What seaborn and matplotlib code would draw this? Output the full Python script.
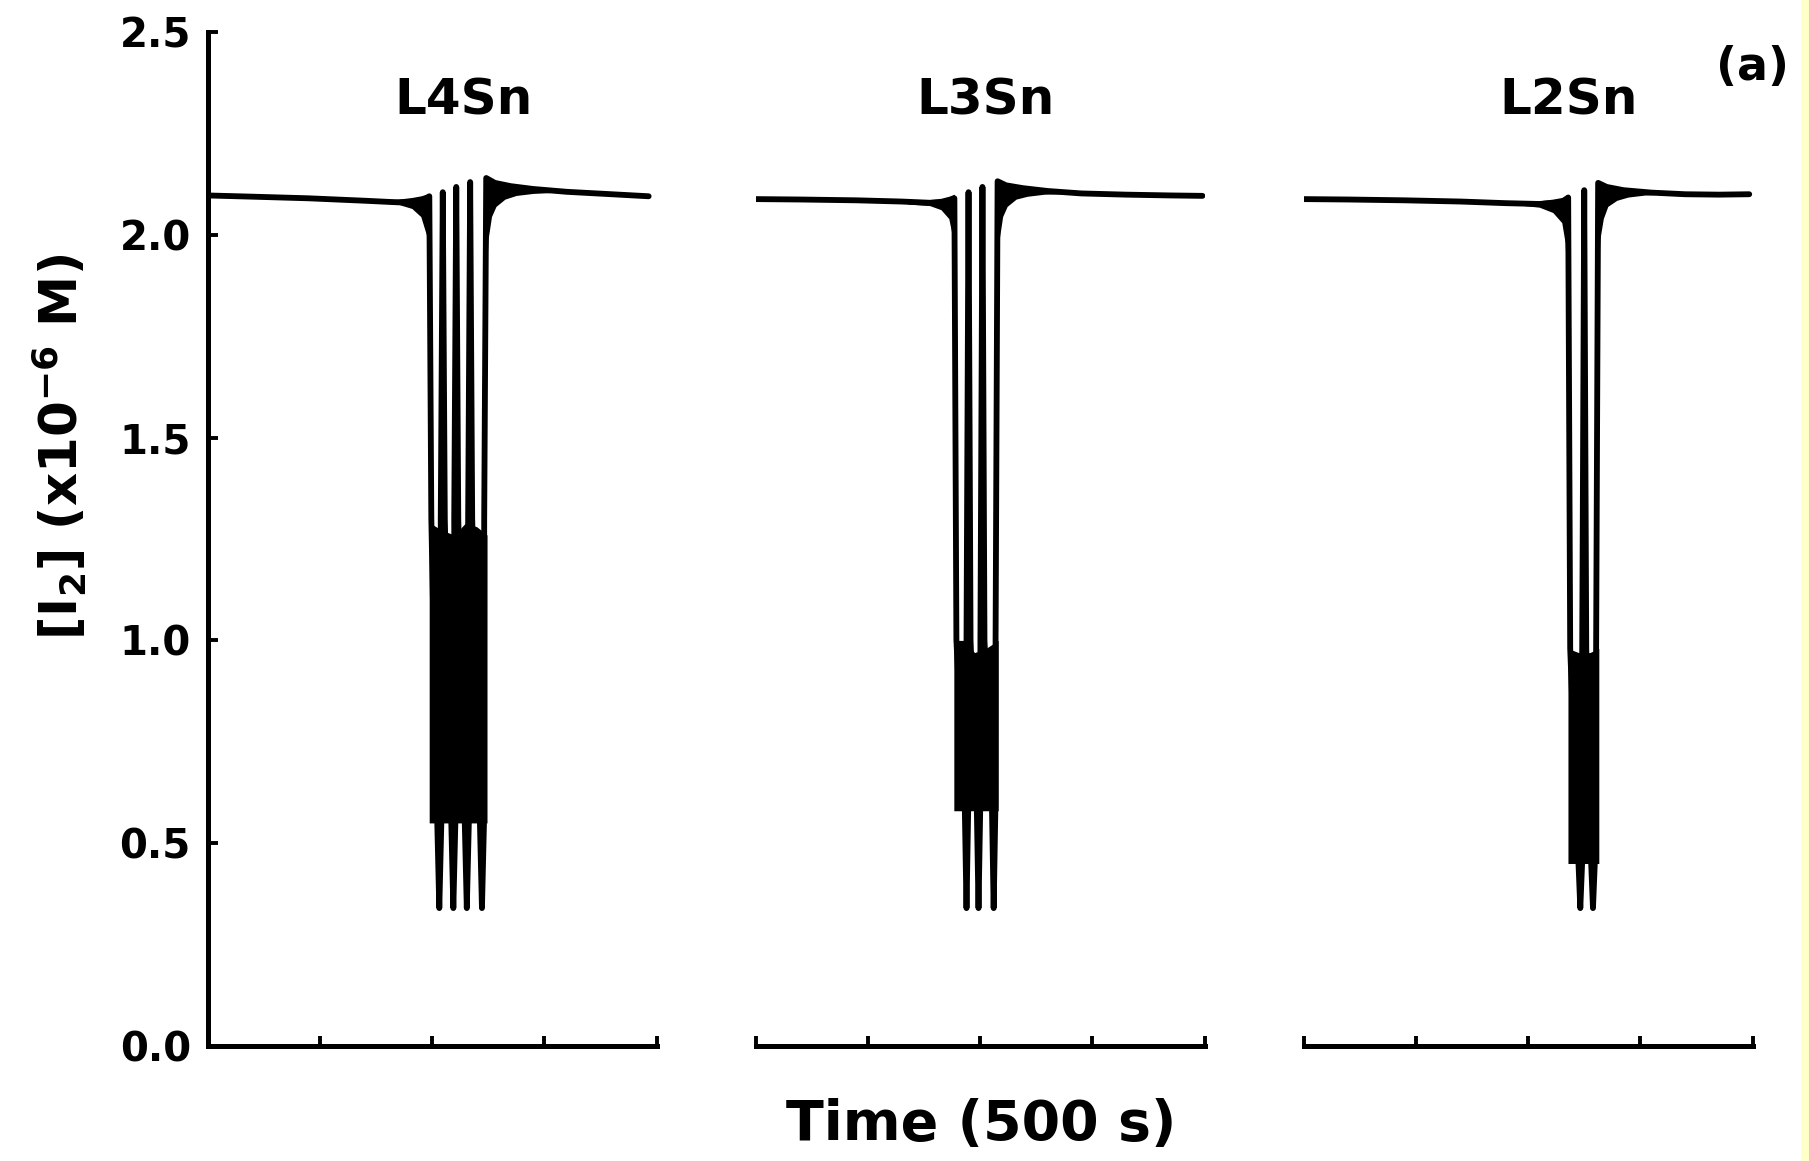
import matplotlib
matplotlib.use("Agg")
import matplotlib.pyplot as plt
from matplotlib.patches import Rectangle
import pandas as pd
import seaborn as sns

# Time axis in units of 500 s, [I2] in units of 1e-6 M.
panel_titles = ["L4Sn", "L3Sn", "L2Sn"]
title_x = [2.28, 2.05, 2.36]
title_y = 2.33

y_ticks = [0.0, 0.5, 1.0, 1.5, 2.0, 2.5]
y_tick_labels = ["0.0", "0.5", "1.0", "1.5", "2.0", "2.5"]
x_ticks = [0, 1, 2, 3, 4]

# --- L4Sn: four large oscillations ---
l4_t = [0.00, 0.40, 0.90, 1.40, 1.70, 1.90, 1.976,
        1.994, 2.047, 2.065, 2.083,
        2.078, 2.096, 2.114, 2.172, 2.190, 2.208,
        2.198, 2.216, 2.234, 2.292, 2.310, 2.328,
        2.322, 2.340, 2.358, 2.427, 2.445, 2.463,
        2.465, 2.483, 2.560, 2.700, 2.900, 3.200, 3.600, 3.930]
l4_c = [2.097, 2.094, 2.090, 2.084, 2.080, 2.082, 2.095,
        1.30, 0.55, 0.34, 0.55,
        1.30, 2.105, 1.30, 0.55, 0.34, 0.55,
        1.30, 2.118, 1.30, 0.55, 0.34, 0.55,
        1.30, 2.130, 1.30, 0.55, 0.34, 0.55,
        1.30, 2.140, 2.128, 2.120, 2.113, 2.106, 2.100, 2.095]
# envelope of the fast small-amplitude oscillations
l4_pre_t = [1.50, 1.70, 1.82, 1.90, 1.95, 1.976]
l4_pre_lo = [2.080, 2.075, 2.065, 2.045, 2.000, 1.850]
l4_pre_hi = [2.086, 2.088, 2.092, 2.096, 2.100, 2.100]
l4_core_t = [1.975, 2.10, 2.20, 2.30, 2.40, 2.490]
l4_core_lo = [0.55, 0.55, 0.55, 0.55, 0.55, 0.55]
l4_core_hi = [1.29, 1.27, 1.26, 1.29, 1.28, 1.26]
l4_post_t = [2.483, 2.50, 2.53, 2.57, 2.65, 2.75, 2.90, 3.05]
l4_post_lo = [1.90, 1.99, 2.045, 2.070, 2.088, 2.097, 2.102, 2.104]
l4_post_hi = [2.140, 2.138, 2.134, 2.130, 2.125, 2.121, 2.116, 2.111]

# --- L3Sn: three large oscillations ---
l3_t = [0.00, 0.40, 0.90, 1.30, 1.55, 1.70, 1.770,
        1.788, 1.862, 1.878, 1.894,
        1.878, 1.896, 1.914, 1.969, 1.985, 2.001,
        2.002, 2.020, 2.038, 2.104, 2.120, 2.136,
        2.137, 2.155, 2.230, 2.380, 2.600, 2.900, 3.300, 3.700, 3.980]
l3_c = [2.088, 2.087, 2.085, 2.082, 2.079, 2.080, 2.090,
        1.00, 0.60, 0.34, 0.60,
        1.00, 2.105, 1.00, 0.60, 0.34, 0.60,
        1.00, 2.118, 1.00, 0.60, 0.34, 0.60,
        1.00, 2.132, 2.122, 2.115, 2.108, 2.102, 2.099, 2.097, 2.096]
l3_pre_t = [1.35, 1.55, 1.65, 1.72, 1.75, 1.770]
l3_pre_lo = [2.076, 2.072, 2.062, 2.040, 2.000, 1.850]
l3_pre_hi = [2.085, 2.087, 2.090, 2.095, 2.098, 2.100]
l3_core_t = [1.765, 1.85, 1.95, 2.05, 2.160]
l3_core_lo = [0.58, 0.58, 0.58, 0.58, 0.58]
l3_core_hi = [1.00, 1.00, 0.97, 0.98, 1.00]
l3_post_t = [2.155, 2.17, 2.20, 2.24, 2.32, 2.42, 2.57, 2.72]
l3_post_lo = [1.90, 1.99, 2.045, 2.070, 2.088, 2.095, 2.100, 2.101]
l3_post_hi = [2.132, 2.131, 2.128, 2.124, 2.119, 2.115, 2.111, 2.107]

# --- L2Sn: two large oscillations ---
l2_t = [0.00, 0.40, 0.90, 1.40, 1.80, 2.10, 2.30, 2.357,
        2.375, 2.449, 2.465, 2.481,
        2.482, 2.500, 2.518, 2.562, 2.578, 2.594,
        2.606, 2.624, 2.700, 2.850, 3.100, 3.400, 3.700, 3.970]
l2_c = [2.088, 2.087, 2.085, 2.082, 2.078, 2.076, 2.080, 2.092,
        0.98, 0.45, 0.34, 0.45,
        0.98, 2.110, 0.98, 0.45, 0.34, 0.45,
        0.98, 2.128, 2.118, 2.110, 2.104, 2.100, 2.099, 2.100]
l2_pre_t = [1.90, 2.10, 2.22, 2.30, 2.33, 2.357]
l2_pre_lo = [2.074, 2.068, 2.055, 2.030, 1.980, 1.800]
l2_pre_hi = [2.082, 2.084, 2.088, 2.092, 2.096, 2.100]
l2_core_t = [2.355, 2.45, 2.55, 2.630]
l2_core_lo = [0.45, 0.45, 0.45, 0.45]
l2_core_hi = [0.98, 0.97, 0.97, 0.98]
l2_post_t = [2.624, 2.64, 2.67, 2.71, 2.79, 2.89, 3.04, 3.20]
l2_post_lo = [1.90, 1.99, 2.040, 2.070, 2.085, 2.093, 2.098, 2.100]
l2_post_hi = [2.128, 2.127, 2.124, 2.120, 2.115, 2.111, 2.107, 2.104]

panels = [
    (l4_t, l4_c, (l4_pre_t, l4_pre_lo, l4_pre_hi),
     (l4_core_t, l4_core_lo, l4_core_hi), (l4_post_t, l4_post_lo, l4_post_hi)),
    (l3_t, l3_c, (l3_pre_t, l3_pre_lo, l3_pre_hi),
     (l3_core_t, l3_core_lo, l3_core_hi), (l3_post_t, l3_post_lo, l3_post_hi)),
    (l2_t, l2_c, (l2_pre_t, l2_pre_lo, l2_pre_hi),
     (l2_core_t, l2_core_lo, l2_core_hi), (l2_post_t, l2_post_lo, l2_post_hi)),
]

sns.set_style("ticks")
plt.rcParams["font.family"] = ["DejaVu Sans"]
plt.rcParams["mathtext.default"] = "bf"
for key in ("text.color", "axes.labelcolor", "axes.edgecolor", "xtick.color", "ytick.color"):
    plt.rcParams[key] = "black"

W, H = 1809, 1161
fig = plt.figure(figsize=(W / 100, H / 100), dpi=100)
fig.patch.set_facecolor("white")

# pale strip along the right edge
fig.patches.append(Rectangle((1801 / W, 0), 1 - 1801 / W, 1, transform=fig.transFigure,
                             facecolor="#FFFFC8", edgecolor="none", zorder=-1))

lefts_px = [207.5, 755.7, 1303.6]
width_px = 449.0
bottom = (H - 1046) / H
height = (1046 - 32) / H

lw_trace = 4.2
for i, (t, c, pre, core, post) in enumerate(panels):
    ax = fig.add_axes([lefts_px[i] / W, bottom, width_px / W, height])
    ax.set_facecolor("none")
    df = pd.DataFrame({"time": t, "conc": c})
    sns.lineplot(data=df, x="time", y="conc", ax=ax, sort=False, estimator=None,
                 color="black", linewidth=lw_trace, solid_capstyle="round",
                 solid_joinstyle="round")
    for bt, blo, bhi in (pre, core, post):
        ax.fill_between(bt, blo, bhi, color="black", linewidth=0)

    ax.set_xlim(0, 4)
    ax.set_ylim(0, 2.5)
    ax.set_xlabel("")
    ax.set_ylabel("")
    ax.set_xticks(x_ticks)
    ax.set_xticklabels([])
    for side in ("top", "right"):
        ax.spines[side].set_visible(False)
    ax.spines["bottom"].set_linewidth(3.6)
    ax.spines["left"].set_linewidth(3.6)
    ax.tick_params(axis="both", direction="in", length=7.5, width=2.8, color="black")

    if i == 0:
        ax.set_yticks(y_ticks)
        ax.set_yticklabels(y_tick_labels, fontsize=29, fontweight="bold")
        ax.tick_params(axis="y", pad=12)
    else:
        ax.spines["left"].set_visible(False)
        ax.tick_params(axis="y", left=False, labelleft=False)

    ax.text(title_x[i], title_y, panel_titles[i], ha="center", va="center",
            fontsize=36, fontweight="bold")

fig.text(60 / W, 1 - 447 / H, r"[I$_2$] (x10$^{-6}$ M)", rotation=90,
         ha="center", va="center", fontsize=37, fontweight="bold")
fig.text(981 / W, 1 - 1125 / H, "Time (500 s)", ha="center", va="center",
         fontsize=40, fontweight="bold")
fig.text(1753 / W, 1 - 67 / H, "(a)", ha="center", va="center",
         fontsize=33, fontweight="bold")

fig.savefig("out.png", dpi=100)
